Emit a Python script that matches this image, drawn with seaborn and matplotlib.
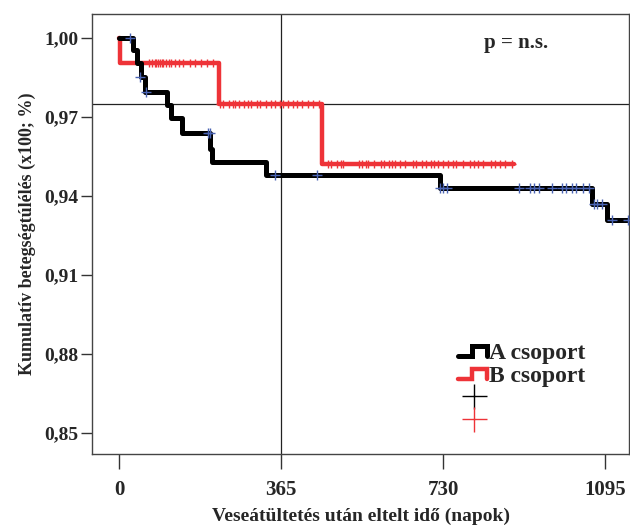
import matplotlib
matplotlib.use('Agg')
import matplotlib.pyplot as plt
import numpy as np
import pandas as pd
import seaborn as sns
from matplotlib.legend_handler import HandlerBase
from matplotlib.lines import Line2D

# Kaplan-Meier steps (days, cumulative survival)
a_times = [0, 31, 40, 49, 58, 107, 116, 141, 205, 209, 330, 723, 1065, 1099, 1150]
a_surv = [1.000, 0.9955, 0.9905, 0.985, 0.9795, 0.9745, 0.9696, 0.964, 0.958, 0.953,
          0.948, 0.943, 0.937, 0.931, 0.931]
b_times = [0, 3, 225, 458, 890]
b_surv = [1.000, 0.9905, 0.975, 0.952, 0.952]

# censored observations
a_cens_t = [25, 48, 60, 200, 204, 352, 447, 723, 730, 738, 901, 925, 935, 946, 975, 998,
            1008, 1020, 1030, 1045, 1058, 1070, 1078, 1088, 1110, 1146]
a_cens_s = [1.000, 0.985, 0.9795, 0.964, 0.964, 0.948, 0.948, 0.943, 0.943, 0.943, 0.943,
            0.943, 0.943, 0.943, 0.943, 0.943, 0.943, 0.943, 0.943, 0.943, 0.943, 0.937,
            0.937, 0.937, 0.931, 0.931]
b_cens_t = [68, 75, 80, 84, 88, 92, 96, 100, 106, 112, 118, 126, 135, 145, 160, 172, 185, 198, 212,
            228, 235, 248, 256, 262, 270, 282, 290, 298, 310, 318, 330, 342, 352, 362, 370, 380,
            392, 402, 412, 425, 438, 450,
            470, 478, 490, 500, 505, 540, 548, 556, 562, 575, 590, 598, 608, 615, 622, 632, 645,
            662, 670, 682, 692, 702, 710, 718, 730, 742, 752, 760, 775, 790, 800, 808, 820, 838,
            848, 858, 870, 885]
b_cens_s = [0.9905] * 19 + [0.975] * 23 + [0.952] * 38

x_ticks = [0, 365, 730, 1095]
y_ticks = [0.85, 0.88, 0.91, 0.94, 0.97, 1.00]
y_tick_labels = ['0,85', '0,88', '0,91', '0,94', '0,97', '1,00']
groups = ['A csoport', 'B csoport']

BLACK = '#000000'
RED = '#ee3338'
BLUE = '#4a64b4'

sns.set_style('ticks')
plt.rcParams['font.family'] = ['Liberation Serif', 'DejaVu Serif']
plt.rcParams['font.weight'] = 'bold'


class StepHandler(HandlerBase):
    # legend icon shaped like a small survival step
    def create_artists(self, legend, orig_handle, xdescent, ydescent, width, height, fontsize, trans):
        xs = np.array([0.0, 0.45, 0.45, 0.95, 0.95]) * width - xdescent
        ys = np.array([0.2, 0.2, 0.8, 0.8, 0.2]) * height - ydescent
        line = Line2D(xs, ys, color=orig_handle.get_color(), lw=orig_handle.get_linewidth(),
                      solid_joinstyle='miter')
        line.set_transform(trans)
        return [line]


fig = plt.figure(figsize=(6.3, 5.27), dpi=100)
ax = fig.add_axes([92 / 630, (527 - 454) / 527, (629 - 92) / 630, (454 - 14) / 527])

df_b = pd.DataFrame({'t': b_times, 's': b_surv})
df_a = pd.DataFrame({'t': a_times, 's': a_surv})
sns.lineplot(data=df_b, x='t', y='s', ax=ax, color=RED, lw=3.2, drawstyle='steps-post',
             estimator=None, sort=False, zorder=3)
sns.scatterplot(x=b_cens_t, y=b_cens_s, ax=ax, marker='+', color=RED, s=40, linewidth=1.0,
                zorder=3.5)
sns.lineplot(data=df_a, x='t', y='s', ax=ax, color=BLACK, lw=3.6, drawstyle='steps-post',
             estimator=None, sort=False, zorder=4)
sns.scatterplot(x=a_cens_t, y=a_cens_s, ax=ax, marker='+', color=BLUE, s=45, linewidth=1.0,
                zorder=5)

# reference lines
ax.axvline(365, color='#222222', lw=0.9, zorder=2)
ax.axhline(0.975, color='#222222', lw=0.9, zorder=2)

ax.set_xlim(-61, 1149)
ax.set_ylim(0.842, 1.0091)
ax.set_xticks(x_ticks)
ax.set_xticklabels([str(t) for t in x_ticks], fontsize=15, fontweight='bold')
ax.set_yticks(y_ticks)
ax.set_yticklabels(y_tick_labels, fontsize=14, fontweight='bold')
ax.tick_params(axis='x', length=11, width=1.0, color='#333333', pad=8)
ax.tick_params(axis='y', length=8, width=1.0, color='#333333', pad=2)
for sp in ax.spines.values():
    sp.set_visible(True)
    sp.set_color('#444444')
    sp.set_linewidth(1.0)

ax.set_xlabel('Veseátültetés után eltelt idő (napok)', fontsize=14, fontweight='bold', labelpad=5)
ax.set_ylabel('Kumulatív betegségtúlélés (x100; %)', fontsize=13, fontweight='bold', labelpad=6)

ax.text(0.79, 0.935, 'p = n.s.', transform=ax.transAxes, fontsize=15, fontweight='bold',
        ha='center', va='center')

handles = [Line2D([], [], color=BLACK, lw=3.6), Line2D([], [], color=RED, lw=3.2),
           Line2D([], [], color=BLACK, marker='+', ls='none', markersize=18, mew=1.0),
           Line2D([], [], color=RED, marker='+', ls='none', markersize=18, mew=1.0)]
labels = groups + ['', '']
leg = ax.legend(handles, labels, loc='upper left', bbox_to_anchor=(0.66, 0.28),
                frameon=False, fontsize=17, handlelength=1.3, handletextpad=0.0,
                labelspacing=0.05, borderpad=0.0,
                handler_map={handles[0]: StepHandler(), handles[1]: StepHandler()})
for t in leg.get_texts():
    t.set_fontweight('bold')

fig.savefig('out.png', dpi=100)
